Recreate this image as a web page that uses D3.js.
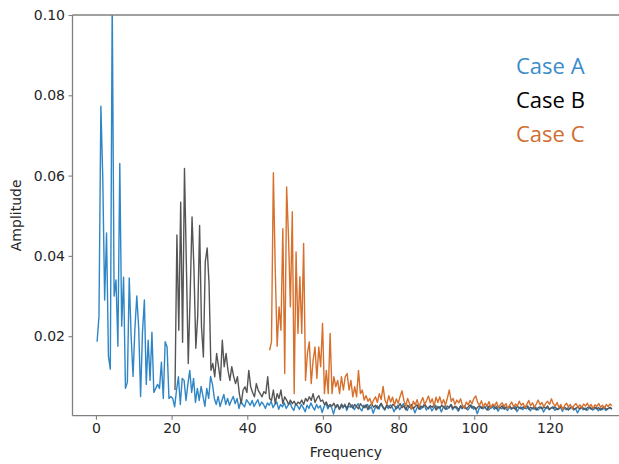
<!DOCTYPE html>
<html>
<head>
<meta charset="utf-8">
<script src="https://cdn.jsdelivr.net/npm/d3@7"></script>
<style>
html,body{margin:0;padding:0;background:#fff;overflow:hidden;}
svg{display:block;}
</style>
</head>
<body>
<svg id="chart" width="619" height="464"></svg>
<script>
// ---------------- data ----------------
const xTicks = [0, 20, 40, 60, 80, 100, 120];
const yTicks = [0.02, 0.04, 0.06, 0.08, 0.10];
const seriesNames = ["Case A", "Case B", "Case C"];
const freqStep = 0.5;
const startA = 0.3, startB = 20.9, startC = 45.9;

const ampA = [
0.0186,0.0250,0.0773,0.0595,0.0290,0.0457,0.0150,0.0118,0.1040,0.0300,
0.0340,0.0175,0.0630,0.0225,0.0347,0.0070,0.0085,0.0345,0.0200,0.0100,
0.0220,0.0300,0.0220,0.0050,0.0210,0.0290,0.0080,0.0190,0.0090,0.0210,
0.0060,0.0070,0.0080,0.0070,0.0135,0.0045,0.0186,0.0173,0.0045,0.0050,
0.0045,0.0024,0.0066,0.0099,0.0030,0.0095,0.0090,0.0040,0.0080,0.0115,
0.0060,0.0095,0.0035,0.0070,0.0040,0.0075,0.0050,0.0025,0.0070,0.0045,
0.0100,0.0080,0.0045,0.0030,0.0050,0.0025,0.0040,0.0055,0.0030,0.0045,
0.0028,0.0040,0.0050,0.0032,0.0045,0.0020,0.0038,0.0030,0.0024,0.0042,
0.0035,0.0028,0.0040,0.0025,0.0034,0.0042,0.0026,0.0036,0.0030,0.0020,
0.0034,0.0028,0.0038,0.0022,0.0030,0.0036,0.0018,0.0030,0.0024,0.0034,
0.0020,0.0028,0.0035,0.0022,0.0015,0.0032,
0.0026,0.0018,0.0030,0.0022,0.0012,0.0028,0.0020,0.0034,0.0024,0.0016,
0.0030,0.0021,0.0027,0.0010,0.0025,0.0033,0.0019,0.0028,0.0022,0.0006,
0.0024,0.0030,0.0018,0.0026,0.0021,0.0031,0.0015,0.0027,0.0023,0.0029,
0.0017,0.0025,0.0032,0.0020,0.0014,0.0028,0.0022,0.0030,0.0019,0.0024,
0.0008,0.0021,0.0027,0.0018,0.0031,0.0023,0.0016,0.0026,0.0020,0.0029,
0.0024,0.0012,0.0022,0.0028,0.0017,0.0025,0.0032,0.0021,0.0015,0.0026,
0.0019,0.0023,0.0009,0.0020,0.0027,0.0018,0.0024,0.0030,0.0016,0.0022,
0.0026,0.0014,0.0021,0.0028,0.0019,0.0024,0.0011,0.0023,0.0027,0.0018,
0.0022,0.0029,0.0017,0.0025,0.0020,0.0013,0.0024,0.0019,0.0026,0.0021,
0.0016,0.0023,0.0028,0.0018,0.0022,0.0007,0.0020,0.0025,0.0019,0.0023,
0.0027,0.0016,0.0021,0.0024,0.0018,0.0026,0.0013,0.0022,0.0019,0.0025,
0.0020,0.0015,0.0023,0.0018,0.0021,0.0026,0.0012,0.0020,0.0024,0.0017,
0.0022,0.0019,0.0025,0.0014,0.0021,0.0018,0.0023,0.0016,0.0020,0.0024,
0.0011,0.0019,0.0022,0.0017,0.0021,0.0025,0.0015,0.0020,0.0018,0.0023,
0.0013,0.0021,0.0017,0.0022,0.0019,0.0024,0.0016,0.0020,0.0009,0.0018,
0.0022,0.0017,0.0021,0.0015,0.0020,0.0023,0.0016,0.0019,0.0022,0.0014,
0.0020,0.0017,0.0021,0.0015,0.0019,0.0022,0.0018
];

const ampB = [
0.0066,0.0452,0.0215,0.0534,0.0185,0.0618,0.0380,0.0132,0.0300,0.0497,
0.0370,0.0170,0.0250,0.0476,0.0223,0.0148,0.0385,0.0420,0.0330,0.0115,
0.0132,0.0099,0.0157,0.0124,0.0090,0.0190,0.0124,0.0157,0.0115,0.0090,
0.0124,0.0100,0.0082,0.0099,0.0057,0.0032,0.0066,0.0074,0.0060,0.0115,
0.0074,0.0060,0.0049,0.0082,0.0065,0.0057,0.0049,0.0062,0.0057,0.0099,
0.0045,0.0040,0.0066,0.0032,0.0057,0.0045,0.0066,0.0032,0.0049,0.0041,
0.0030,0.0041,0.0032,0.0038,0.0028,0.0036,0.0032,0.0041,0.0030,0.0045,
0.0038,0.0049,0.0040,0.0057,0.0035,0.0045,0.0052,0.0038,0.0041,0.0030,
0.0036,0.0024,0.0030,
0.0026,0.0033,0.0022,0.0029,0.0018,0.0031,0.0024,0.0027,0.0020,0.0034,
0.0028,0.0021,0.0030,0.0025,0.0019,0.0032,0.0026,0.0022,0.0029,0.0017,
0.0027,0.0031,0.0023,0.0028,0.0020,0.0026,0.0033,0.0024,0.0018,0.0029,
0.0025,0.0021,0.0030,0.0027,0.0019,0.0024,0.0032,0.0022,0.0026,0.0017,
0.0028,0.0023,0.0030,0.0020,0.0025,0.0029,0.0018,0.0026,0.0022,0.0031,
0.0024,0.0019,0.0027,0.0023,0.0029,0.0016,0.0025,0.0021,0.0028,0.0024,
0.0018,0.0026,0.0022,0.0030,0.0020,0.0025,0.0023,0.0017,0.0027,0.0022,
0.0026,0.0019,0.0024,0.0029,0.0021,0.0025,0.0018,0.0023,0.0027,0.0020,
0.0024,0.0022,0.0016,0.0026,0.0021,0.0028,0.0023,0.0019,0.0025,0.0022,
0.0027,0.0018,0.0024,0.0021,0.0026,0.0020,0.0023,0.0017,0.0025,0.0022,
0.0019,0.0024,0.0021,0.0027,0.0018,0.0023,0.0020,0.0025,0.0016,0.0022,
0.0024,0.0019,0.0023,0.0021,0.0026,0.0018,0.0022,0.0020,0.0024,0.0017,
0.0021,0.0025,0.0019,0.0023,0.0020,0.0016,0.0022,0.0024,0.0018,0.0021,
0.0023,0.0019,0.0025,0.0020,0.0017,0.0022,0.0024,0.0018,0.0021,0.0023,
0.0019,0.0022,0.0016,0.0021,0.0024,0.0018,0.0020,0.0023,0.0019
];

const ampC = [
0.0165,0.0186,0.0607,0.0364,0.0175,0.0273,0.0215,0.0468,0.0107,0.0572,
0.0447,0.0273,0.0510,0.0057,0.0410,0.0207,0.0348,0.0207,0.0431,0.0090,
0.0157,0.0186,0.0082,0.0140,0.0173,0.0095,0.0173,0.0124,0.0232,0.0057,
0.0115,0.0057,0.0207,0.0057,0.0099,0.0074,0.0090,0.0057,0.0099,0.0066,
0.0099,0.0107,0.0066,0.0090,0.0049,0.0074,0.0049,0.0115,0.0057,0.0066,
0.0041,0.0052,0.0038,0.0045,0.0030,0.0041,0.0049,0.0035,0.0057,0.0042,
0.0075,0.0041,0.0030,0.0052,0.0036,0.0048,0.0028,0.0044,0.0033,0.0050,
0.0064,0.0040,0.0026,0.0045,0.0032,0.0018,0.0038,0.0029,0.0042,0.0024,
0.0036,0.0047,0.0030,0.0040,0.0051,0.0034,0.0044,0.0026,0.0048,0.0035,
0.0049,0.0031,0.0042,0.0028,0.0046,0.0066,0.0038,0.0045,0.0030,0.0041,
0.0034,0.0044,0.0027,0.0020,0.0036,0.0029,0.0040,0.0032,0.0045,0.0051,
0.0035,0.0028,0.0039,0.0024,0.0033,0.0026,0.0037,0.0022,0.0031,0.0027,
0.0036,0.0021,0.0030,0.0034,0.0025,0.0032,0.0019,0.0029,0.0036,0.0024,
0.0031,0.0026,0.0038,0.0028,0.0033,0.0022,0.0030,0.0040,0.0027,0.0034,
0.0023,0.0031,0.0041,0.0029,0.0035,0.0024,0.0033,0.0038,0.0030,0.0044,
0.0032,0.0026,0.0035,0.0022,0.0030,0.0017,0.0027,0.0033,0.0024,0.0030,
0.0019,0.0028,0.0032,0.0023,0.0029,0.0021,0.0031,0.0026,0.0033,0.0024,
0.0030,0.0020,0.0029,0.0025,0.0032,0.0023,0.0028,0.0021,0.0030,0.0025,
0.0031,0.0027
];

// ---------------- layout ----------------
const svg = d3.select("#chart");
const W = 619, H = 464;
const plotLeft = 72.5, plotTop = 15, plotBottom = 415.7, plotRight = 638.8;

const x = d3.scaleLinear().domain([-6.2, 143.5]).range([plotLeft, plotRight]);
const y = d3.scaleLinear().domain([0.0002, 0.1]).range([plotBottom, plotTop]);

const colors = { line: ["#2f86c6", "#555555", "#d6702c"], text: ["#3a8ccb", "#000000", "#cf6e2f"] };
const tickFont = "DejaVu Sans, sans-serif";

svg.append("defs").append("clipPath").attr("id", "plotclip")
  .append("rect").attr("x", plotLeft).attr("y", plotTop)
  .attr("width", plotRight - plotLeft).attr("height", plotBottom - plotTop);

function toPoints(arr, start) {
  return arr.map((v, i) => ({ f: start + i * freqStep, v: v }));
}
const series = [toPoints(ampA, startA), toPoints(ampB, startB), toPoints(ampC, startC)];

const line = d3.line().x(d => x(d.f)).y(d => y(d.v));

const g = svg.append("g").attr("clip-path", "url(#plotclip)");
series.forEach((s, i) => {
  g.append("path").datum(s)
    .attr("fill", "none")
    .attr("stroke", colors.line[i])
    .attr("stroke-width", 1.4)
    .attr("stroke-linejoin", "round")
    .attr("d", line);
});

// axes
const xAxis = d3.axisBottom(x).tickValues(xTicks).tickSize(4).tickPadding(3).tickFormat(d3.format("d"));
const yAxis = d3.axisLeft(y).tickValues(yTicks).tickSize(4).tickPadding(3.5).tickFormat(d3.format(".2f"));

const gx = svg.append("g").attr("transform", `translate(0,${plotBottom})`).call(xAxis);
const gy = svg.append("g").attr("transform", `translate(${plotLeft},0)`).call(yAxis);
[gx, gy].forEach(a => {
  a.select(".domain").remove();
  a.selectAll(".tick line").attr("stroke", "#808080").attr("stroke-width", 1.1);
  a.selectAll(".tick text").attr("fill", "#262626").style("font-family", tickFont).style("font-size", "14px");
});

// spines
const spine = svg.append("g").attr("stroke", "#808080").attr("stroke-width", 1.3).attr("fill", "none");
spine.append("line").attr("x1", plotLeft).attr("x2", plotLeft).attr("y1", plotTop).attr("y2", plotBottom);
spine.append("line").attr("x1", plotLeft).attr("x2", W).attr("y1", plotBottom).attr("y2", plotBottom);
spine.append("line").attr("x1", plotLeft).attr("x2", W).attr("y1", plotTop).attr("y2", plotTop);

// axis labels
svg.append("text").attr("x", 346).attr("y", 457)
  .attr("text-anchor", "middle").attr("fill", "#262626")
  .style("font-family", tickFont).style("font-size", "14px").text("Frequency");
svg.append("text").attr("transform", `translate(21,${(plotTop + plotBottom) / 2}) rotate(-90)`)
  .attr("text-anchor", "middle").attr("fill", "#262626")
  .style("font-family", tickFont).style("font-size", "14px").text("Amplitude");

// legend texts
const legendY = [74, 108, 141.7];
seriesNames.forEach((n, i) => {
  svg.append("text").attr("x", 516).attr("y", legendY[i])
    .attr("fill", colors.text[i])
    .style("font-family", "Open Sans, sans-serif").style("font-size", "22px")
    .text(n);
});
</script>
</body>
</html>
